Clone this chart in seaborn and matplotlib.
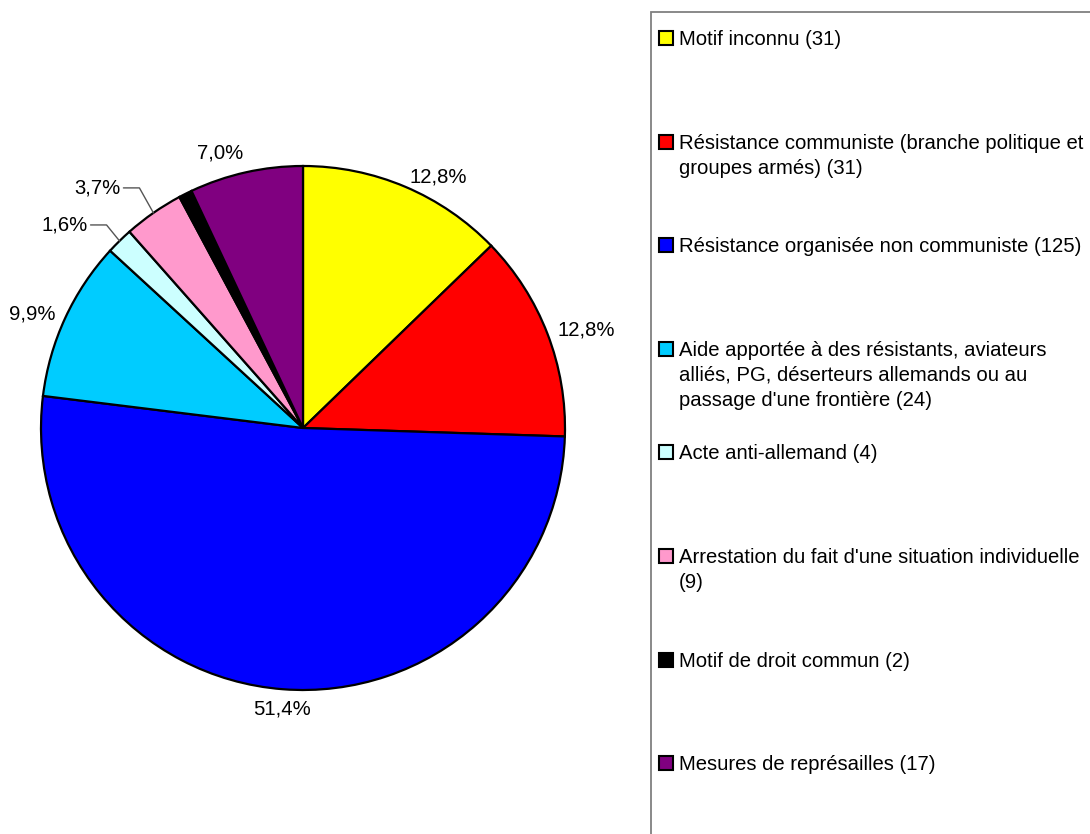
import numpy as np
import matplotlib.pyplot as plt
import seaborn as sns
from matplotlib.patches import Rectangle

# ---------- DATA ----------
categories = [
    "Motif inconnu (31)",
    "Résistance communiste (branche politique et\ngroupes armés) (31)",
    "Résistance organisée non communiste (125)",
    "Aide apportée à des résistants, aviateurs\nalliés, PG, déserteurs allemands ou au\npassage d'une frontière (24)",
    "Acte anti-allemand (4)",
    "Arrestation du fait d'une situation individuelle\n(9)",
    "Motif de droit commun (2)",
    "Mesures de représailles (17)",
]
counts = [31, 31, 125, 24, 4, 9, 2, 17]
colors = ["#FFFF00", "#FF0000", "#0000FF", "#00CCFF", "#CCFFFF", "#FF99CC", "#000000", "#800080"]

sns.set_theme(style="white")
plt.rcParams["font.family"] = ["Liberation Sans", "DejaVu Sans"]
plt.rcParams["text.color"] = "black"

FS = 14.6
LINE_STEP = 25  # px between wrapped legend lines
W, H = 1090, 834
fig = plt.figure(figsize=(W / 100, H / 100), dpi=100)
ax = fig.add_axes([0, 0, 1, 1])

# pie geometry in pixel units (y up)
cx, cy, R = 303, H - 428, 262
wedges, _ = ax.pie(counts, colors=colors, startangle=90, counterclock=False,
                   center=(cx, cy), radius=R,
                   wedgeprops=dict(edgecolor="black", linewidth=1.6))
ax.set_xlim(0, W)
ax.set_ylim(0, H)
ax.set_aspect("equal")
ax.axis("off")

total = sum(counts)
pcts = [100 * c / total for c in counts]
cum = np.cumsum([0] + counts)

# leader-line elbows for small slices (pixel offsets from the slice edge)
leader = {4: (-13, 16), 5: (-14, 25)}

for i, p in enumerate(pcts):
    if p < 1:
        continue
    mid = 90 - 360 * (cum[i] + cum[i + 1]) / 2 / total
    a = np.deg2rad(mid)
    c, s = np.cos(a), np.sin(a)
    txt = f"{p:.1f}%".replace(".", ",")
    if i in leader:
        ex, ey = cx + R * c, cy + R * s
        dx, dy = leader[i]
        kx, ky = ex + dx, ey + dy
        ax.plot([ex, kx, kx - 16], [ey, ky, ky], color="#555555", lw=1)
        ax.text(kx - 19, ky, txt, ha="right", va="center", fontsize=FS)
        continue
    d = R * 1.04
    ha = "left" if c > 0.1 else ("right" if c < -0.1 else "center")
    va = "bottom" if s > 0.95 else ("top" if s < -0.95 else "center")
    ax.text(cx + d * c, cy + d * s, txt, ha=ha, va=va, fontsize=FS)

# ---------- LEGEND BOX ----------
ax.add_patch(Rectangle((651, -20), 600, H - 12 + 20, facecolor="white",
                       edgecolor="#808080", lw=1.3, clip_on=True, zorder=0))
for i, (lab, col) in enumerate(zip(categories, colors)):
    y = H - (38 + i * 103.6)
    n = lab.count("\n")
    ax.add_patch(Rectangle((659, y - 7), 14, 14, facecolor=col,
                           edgecolor="black", lw=1.5, zorder=3))
    for k, line in enumerate(lab.split("\n")):
        ax.text(679, y - 7 - k * LINE_STEP, line, ha="left", va="baseline",
                fontsize=FS, zorder=3)

fig.savefig("out.png", dpi=100)
